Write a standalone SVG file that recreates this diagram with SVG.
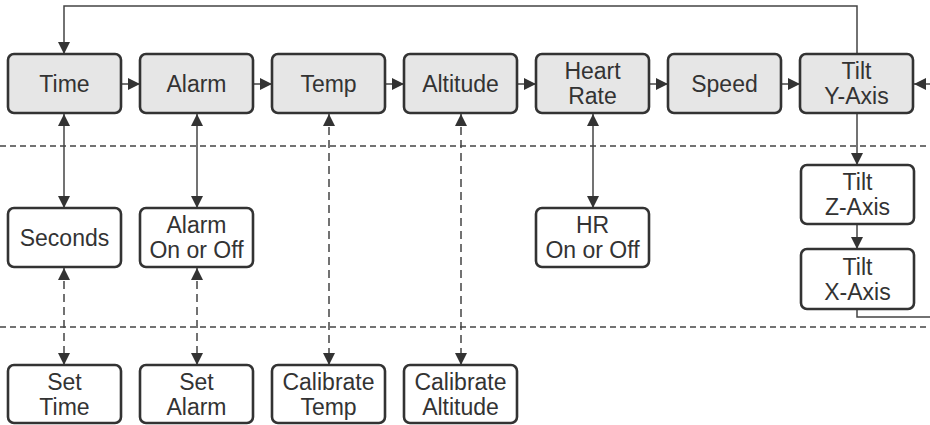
<svg xmlns="http://www.w3.org/2000/svg" width="930" height="425" viewBox="0 0 930 425">
<style>
.box{stroke:#333;stroke-width:2.6;}
.top{fill:#e6e6e6;}
.sub{fill:#fff;}
text{font-family:"Liberation Sans",Arial,sans-serif;font-size:23px;fill:#333;text-anchor:middle;}
.c{fill:none;stroke:#444;stroke-width:1.5;}
.d{stroke-dasharray:8,5;}
.div{fill:none;stroke:#444;stroke-width:1.3;stroke-dasharray:6,4;}
</style>
<defs>
<marker id="ah" markerUnits="userSpaceOnUse" markerWidth="12" markerHeight="12" refX="12" refY="6" orient="auto-start-reverse" viewBox="0 0 12 12">
<path d="M0,0 L12,6 L0,12 Z" fill="#333"/>
</marker>
</defs>
<rect width="930" height="425" fill="#fff"/>
<g id="dividers">
<line class="div" x1="0" y1="146" x2="930" y2="146"/>
<line class="div" x1="0" y1="327" x2="930" y2="327"/>
</g>
<g id="connectors">
<path class="c" d="M121,84 H140" marker-end="url(#ah)"/>
<path class="c" d="M253,84 H272" marker-end="url(#ah)"/>
<path class="c" d="M385,84 H404" marker-end="url(#ah)"/>
<path class="c" d="M517,84 H536" marker-end="url(#ah)"/>
<path class="c" d="M649,84 H668" marker-end="url(#ah)"/>
<path class="c" d="M781,84 H800" marker-end="url(#ah)"/>
<path class="c" d="M930,84 H914" marker-end="url(#ah)"/>
<path class="c" d="M857,54 V6 H64 V54" marker-end="url(#ah)"/>
<path class="c" d="M64,114 V208" marker-start="url(#ah)" marker-end="url(#ah)"/>
<path class="c" d="M197,114 V208" marker-start="url(#ah)" marker-end="url(#ah)"/>
<path class="c" d="M593,114 V208" marker-start="url(#ah)" marker-end="url(#ah)"/>
<path class="c d" d="M64,268 V365" marker-start="url(#ah)" marker-end="url(#ah)"/>
<path class="c d" d="M197,268 V365" marker-start="url(#ah)" marker-end="url(#ah)"/>
<path class="c d" d="M329,114 V365" marker-start="url(#ah)" marker-end="url(#ah)"/>
<path class="c d" d="M461,114 V365" marker-start="url(#ah)" marker-end="url(#ah)"/>
<path class="c" d="M857,114 V165" marker-end="url(#ah)"/>
<path class="c" d="M857,224 V249" marker-end="url(#ah)"/>
<path class="c" d="M857,309 V317 H930"/>
</g>
<g id="time"><rect class="box top" x="8" y="54" width="113" height="59" rx="6"/><text x="64.5" y="92">Time</text></g>
<g id="alarm"><rect class="box top" x="140" y="54" width="113" height="59" rx="6"/><text x="196.5" y="92">Alarm</text></g>
<g id="temp"><rect class="box top" x="272" y="54" width="113" height="59" rx="6"/><text x="328.5" y="92">Temp</text></g>
<g id="altitude"><rect class="box top" x="404" y="54" width="113" height="59" rx="6"/><text x="460.5" y="92">Altitude</text></g>
<g id="heartrate"><rect class="box top" x="536" y="54" width="113" height="59" rx="6"/><text x="592.5" y="79">Heart</text><text x="592.5" y="104">Rate</text></g>
<g id="speed"><rect class="box top" x="668" y="54" width="113" height="59" rx="6"/><text x="724.5" y="92">Speed</text></g>
<g id="tilty"><rect class="box top" x="800" y="54" width="113" height="59" rx="6"/><text x="856.5" y="79">Tilt</text><text x="856.5" y="104">Y-Axis</text></g>
<g id="seconds"><rect class="box sub" x="8" y="208" width="113" height="59" rx="6"/><text x="64.5" y="246">Seconds</text></g>
<g id="alarmonoff"><rect class="box sub" x="140" y="208" width="113" height="59" rx="6"/><text x="196.5" y="233">Alarm</text><text x="196.5" y="258">On or Off</text></g>
<g id="hronoff"><rect class="box sub" x="536" y="208" width="113" height="59" rx="6"/><text x="592.5" y="233">HR</text><text x="592.5" y="258">On or Off</text></g>
<g id="tiltz"><rect class="box sub" x="801" y="165" width="113" height="59" rx="6"/><text x="857.5" y="190">Tilt</text><text x="857.5" y="215">Z-Axis</text></g>
<g id="tiltx"><rect class="box sub" x="801" y="249" width="113" height="60" rx="6"/><text x="857.5" y="275">Tilt</text><text x="857.5" y="300">X-Axis</text></g>
<g id="settime"><rect class="box sub" x="8" y="365" width="113" height="58" rx="6"/><text x="64.5" y="390">Set</text><text x="64.5" y="415">Time</text></g>
<g id="setalarm"><rect class="box sub" x="140" y="365" width="113" height="58" rx="6"/><text x="196.5" y="390">Set</text><text x="196.5" y="415">Alarm</text></g>
<g id="caltemp"><rect class="box sub" x="272" y="365" width="113" height="58" rx="6"/><text x="328.5" y="390">Calibrate</text><text x="328.5" y="415">Temp</text></g>
<g id="calalt"><rect class="box sub" x="404" y="365" width="113" height="58" rx="6"/><text x="460.5" y="390">Calibrate</text><text x="460.5" y="415">Altitude</text></g>
</svg>
